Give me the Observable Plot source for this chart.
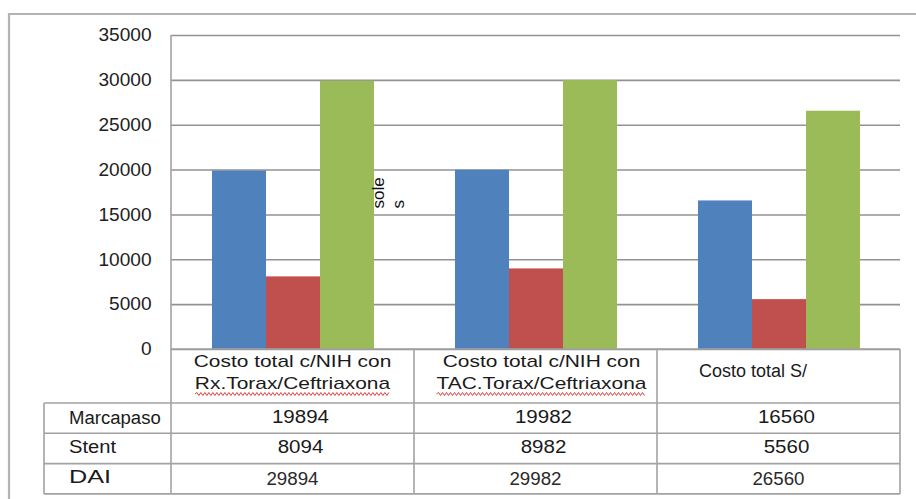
<!DOCTYPE html>
<html><head><meta charset="utf-8">
<script src="https://cdn.jsdelivr.net/npm/d3@7"></script>
<script src="https://cdn.jsdelivr.net/npm/@observablehq/plot@0.6"></script>
<style>
body{margin:0;background:#fff;}
#chart{position:absolute;left:0;top:0;width:916px;height:499px;overflow:hidden;}
</style></head><body>
<div id="chart"></div>
<script>
// ---- data ----
const categories = ["Costo total c/NIH con\nRx.Torax/Ceftriaxona", "Costo total c/NIH con\nTAC.Torax/Ceftriaxona", "Costo total S/"];
const series = ["Marcapaso", "Stent", "DAI"];
const marcapaso = [19894, 19982, 16560];
const stent = [8094, 8982, 5560];
const dai = [29894, 29982, 26560];
const yTicks = [0, 5000, 10000, 15000, 20000, 25000, 30000, 35000];
const axisTitle = "sole\ns";
const colors = ["#4F81BD", "#C0504D", "#9BBB59"];

const seriesValues = [marcapaso, stent, dai];
const data = [];
categories.forEach((c, i) => series.forEach((s, j) => data.push({category: c, series: s, value: seriesValues[j][i]})));

// ---- layout / style (not data) ----
const font = "'Liberation Sans', Arial, sans-serif";
const headerLayout = [
  {anchor: "middle", dx: 0, size: 17, stretch: 1.23, baselines: [18, 40], squiggle: true},
  {anchor: "middle", dx: 6, size: 17, stretch: 1.23, baselines: [18, 40], squiggle: true},
  {anchor: "start", dx: 42, size: 18, stretch: 1, baselines: [28], squiggle: false}
];
const rowLayout = [
  {labelBase: 21, numBase: 20, numDx: 8, labelStretch: 1.03, numStretch: 1.14},
  {labelBase: 50, numBase: 50, numDx: 8, labelStretch: 1.12, numStretch: 1.14},
  {labelBase: 80, numBase: 82, numDx: 0, labelStretch: 1.4, numStretch: 1.04}
];

const chart = Plot.plot({
  width: 916, height: 499,
  marginLeft: 170, marginRight: 15, marginTop: 35, marginBottom: 150,
  style: {fontFamily: font, fontSize: "18px", color: "#222", background: "transparent", overflow: "visible"},
  fx: {domain: categories, padding: 0, axis: null},
  x: {domain: series, paddingInner: 0, paddingOuter: 0.736, axis: null},
  y: {domain: [0, 35000], ticks: yTicks, tickSize: 0, tickPadding: 20, label: null, tickFormat: "d"},
  color: {domain: series, range: colors},
  marks: [
    Plot.ruleY(yTicks, {stroke: "#929292", strokeWidth: 1.6}),
    Plot.barY(data, {fx: "category", x: "series", y: "value", fill: "series"}),
    Plot.text([axisTitle], {
      fx: () => categories[0], text: d => d, frameAnchor: "bottom-right",
      rotate: -90, textAnchor: "start", lineAnchor: "top", lineHeight: 1.2,
      fontSize: 17, fill: "#111", dx: -45, dy: -141
    })
  ]
});

document.getElementById("chart").appendChild(chart);
const svg = d3.select(chart);

// outer frame
svg.insert("path", ":first-child")
  .attr("d", "M9,520V14H930").attr("fill", "none").attr("stroke", "#b3b3b3").attr("stroke-width", 2.2);

// y tick label stretch
svg.selectAll('g[aria-label="y-axis tick label"] text').each(function() {
  const w = this.getComputedTextLength();
  this.setAttribute("textLength", w * 1.06);
  this.setAttribute("lengthAdjust", "spacingAndGlyphs");
});

// data table below, aligned with the library's scales
const fxs = chart.scale("fx"), ys = chart.scale("y");
const bw = fxs.bandwidth;
const left0 = fxs.apply(categories[0]);
const right = fxs.apply(categories[categories.length - 1]) + bw;
const y0 = ys.apply(0), yTop = ys.apply(yTicks[yTicks.length - 1]);
const tableLeft = 44, headerH = 54, rowH = 30.3;
const headerBottom = y0 + headerH;
const tableBottom = headerBottom + rowH * series.length;

const g = svg.append("g").attr("font-family", font).attr("fill", "#1a1a1a").attr("text-anchor", "start");
const line = (x1, y1, x2, y2) => g.append("line").attr("x1", x1).attr("y1", y1).attr("x2", x2).attr("y2", y2)
  .attr("stroke", "#a2a2a2").attr("stroke-width", 1.6);

line(left0, yTop, left0, tableBottom);
categories.forEach(c => { const x = fxs.apply(c) + bw; line(x, y0, x, tableBottom); });
line(tableLeft, headerBottom, tableLeft, tableBottom);
for (let i = 0; i <= series.length; i++) line(tableLeft, headerBottom + rowH * i, right, headerBottom + rowH * i);
line(left0, y0, right, y0);

function stretchText(t, s) {
  const el = t.node();
  const w = el.getComputedTextLength();
  if (s !== 1) { el.setAttribute("textLength", w * s); el.setAttribute("lengthAdjust", "spacingAndGlyphs"); }
  return w * s;
}

function squiggle(x1, x2, y) {
  let d = `M${x1},${y}`;
  let up = true;
  for (let x = x1 + 2; x <= x2; x += 2) { d += `L${x},${y + (up ? -1.5 : 1.5)}`; up = !up; }
  g.append("path").attr("d", d).attr("fill", "none").attr("stroke", "#e23b3b").attr("stroke-width", 1);
}

// header
categories.forEach((c, i) => {
  const L = headerLayout[i];
  const lines = c.split("\n");
  const cx = L.anchor === "middle" ? fxs.apply(c) + bw / 2 + L.dx : fxs.apply(c) + L.dx;
  lines.forEach((ln, k) => {
    const t = g.append("text").attr("x", cx).attr("y", y0 + L.baselines[k]).attr("text-anchor", L.anchor)
      .attr("font-size", L.size).text(ln);
    const w = stretchText(t, L.stretch);
    if (L.squiggle && k === lines.length - 1) {
      const sx = L.anchor === "middle" ? cx - w / 2 : cx;
      squiggle(sx, sx + w, y0 + L.baselines[k] + 5);
    }
  });
});

// rows
series.forEach((s, j) => {
  const R = rowLayout[j];
  const lt = g.append("text").attr("x", tableLeft + 25).attr("y", headerBottom + R.labelBase)
    .attr("text-anchor", "start").attr("font-size", 18).text(s);
  stretchText(lt, R.labelStretch);
  categories.forEach((c, i) => {
    const t = g.append("text").attr("x", fxs.apply(c) + bw / 2 + R.numDx).attr("y", headerBottom + R.numBase)
      .attr("text-anchor", "middle").attr("font-size", 18).attr("fill", j === 2 ? "#2a2a2a" : "#1a1a1a")
      .text(String(seriesValues[j][i]));
    stretchText(t, R.numStretch);
  });
});
</script>
</body></html>
